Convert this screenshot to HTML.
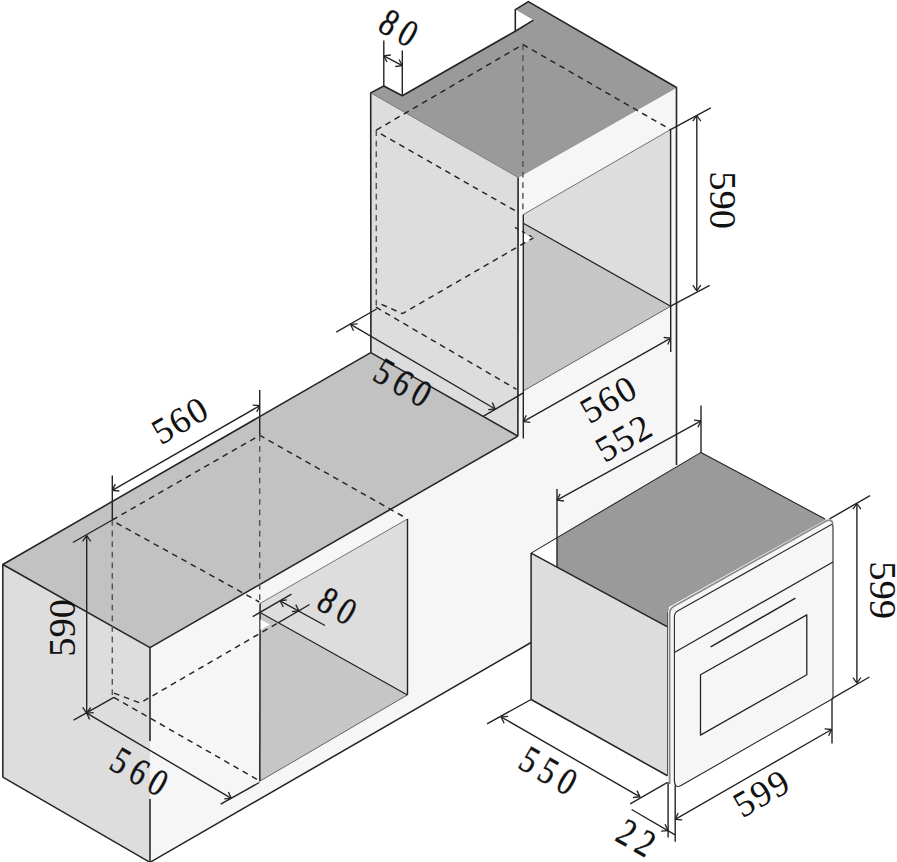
<!DOCTYPE html>
<html><head><meta charset="utf-8"><title>Oven installation dimensions</title>
<style>
html,body{margin:0;padding:0;background:#ffffff;}
body{width:897px;height:862px;overflow:hidden;font-family:"Liberation Serif",serif;}
svg{display:block;}
.t{font-family:"Liberation Serif",serif;}
</style></head><body>
<svg width="897" height="862" viewBox="0 0 897 862" role="img" aria-label="Built-in oven installation dimensions: cabinet cut-outs 560 x 590 x 560 with 80 ventilation gap; oven 599 x 599 x 550, body width 552, door thickness 22">
<rect width="897" height="862" fill="#ffffff"/>
<polygon points="2.8,565.0 150.0,647.6 150.0,862.3 2.8,777.2" fill="#dddddd" stroke="none" stroke-width="1.2" stroke-linejoin="round" />
<polygon points="150.0,647.6 517.9,436.1 518.1,177.5 676.5,87.5 676.5,558.6 150.0,862.3 150.0,647.6" fill="#f6f6f6" stroke="none" stroke-width="1.2" stroke-linejoin="round" />
<polygon points="2.8,564.5 370.7,352.7 517.9,436.1 150.0,647.6" fill="#c2c2c2" stroke="none" stroke-width="1.2" stroke-linejoin="round" />
<polyline points="2.8,777.2 2.8,564.5 370.7,352.7" fill="none" stroke="#242424" stroke-width="1.55" stroke-linecap="butt" stroke-linejoin="round"  />
<polyline points="2.8,564.5 150.0,647.6 517.9,436.1" fill="none" stroke="#242424" stroke-width="1.55" stroke-linecap="butt" stroke-linejoin="round"  />
<polyline points="150.0,647.6 150.0,741.0" fill="none" stroke="#242424" stroke-width="1.55" stroke-linecap="butt" stroke-linejoin="round"  />
<polyline points="150.0,799.0 150.0,866.0" fill="none" stroke="#242424" stroke-width="1.55" stroke-linecap="butt" stroke-linejoin="round"  />
<polyline points="2.8,777.2 150.0,862.3" fill="none" stroke="#242424" stroke-width="1.55" stroke-linecap="butt" stroke-linejoin="round"  />
<polyline points="150.0,862.3 531.1,642.5" fill="none" stroke="#242424" stroke-width="1.55" stroke-linecap="butt" stroke-linejoin="round"  />
<polygon points="407.5,519.0 260.1,603.4 260.1,612.5 407.5,694.9" fill="#dddddd" stroke="none" stroke-width="1.2" stroke-linejoin="round" />
<polygon points="260.1,612.5 407.5,694.9 259.8,781.0" fill="#c6c6c6" stroke="none" stroke-width="1.2" stroke-linejoin="round" />
<polyline points="260.1,603.4 407.5,519.0" fill="none" stroke="#666" stroke-width="0.9" stroke-linecap="butt" stroke-linejoin="round"  />
<polyline points="259.8,781.2 407.5,694.9" fill="none" stroke="#555" stroke-width="0.9" stroke-linecap="butt" stroke-linejoin="round"  />
<polyline points="407.5,519.0 407.5,694.9" fill="none" stroke="#242424" stroke-width="1.4" stroke-linecap="butt" stroke-linejoin="round"  />
<polyline points="260.1,603.4 259.8,781.2" fill="none" stroke="#242424" stroke-width="1.5" stroke-linecap="butt" stroke-linejoin="round"  />
<polyline points="260.1,612.5 407.5,694.9" fill="none" stroke="#242424" stroke-width="1.2" stroke-linecap="butt" stroke-linejoin="round"  />
<polygon points="260.5,619.5 270.0,624.5 260.5,630.0" fill="#ffffff" stroke="none" stroke-width="1.2" stroke-linejoin="round" />
<polyline points="112.3,520.0 259.7,435.3 406.6,518.4" fill="none" stroke="#242424" stroke-width="1.45" stroke-linecap="butt" stroke-linejoin="round" stroke-dasharray="5.8 4.8" />
<polyline points="112.3,520.0 112.3,694.9" fill="none" stroke="#555" stroke-width="1.45" stroke-linecap="butt" stroke-linejoin="round" stroke-dasharray="5.8 4.8" />
<polyline points="259.7,435.3 259.7,603.0" fill="none" stroke="#555" stroke-width="1.45" stroke-linecap="butt" stroke-linejoin="round" stroke-dasharray="5.8 4.8" />
<polyline points="116.5,523.0 259.3,602.0" fill="none" stroke="#242424" stroke-width="1.45" stroke-linecap="butt" stroke-linejoin="round" stroke-dasharray="5.8 4.8" />
<polyline points="113.9,693.1 140.2,703.0 278.1,622.8" fill="none" stroke="#242424" stroke-width="1.45" stroke-linecap="butt" stroke-linejoin="round" stroke-dasharray="5.8 4.8" />
<polyline points="113.9,697.4 259.3,780.7" fill="none" stroke="#242424" stroke-width="1.45" stroke-linecap="butt" stroke-linejoin="round" stroke-dasharray="5.8 4.8" />
<polygon points="370.7,92.9 518.1,177.5 517.9,436.1 370.9,352.7" fill="#dddddd" stroke="none" stroke-width="1.2" stroke-linejoin="round" />
<polygon points="370.7,92.9 383.8,86.0 402.3,95.8 515.3,31.2 533.4,20.1 515.3,9.6 528.4,1.6 676.5,87.5 518.1,177.5" fill="#9a9a9a" stroke="none" stroke-width="1.2" stroke-linejoin="round" />
<polyline points="370.9,352.7 370.7,92.9 383.8,86.0 402.3,95.8 515.3,31.2 533.4,20.1" fill="none" stroke="#242424" stroke-width="1.6" stroke-linecap="butt" stroke-linejoin="round"  />
<polyline points="515.3,31.2 515.3,9.6 528.4,1.6 676.5,87.5 676.5,465.0" fill="none" stroke="#242424" stroke-width="1.6" stroke-linecap="butt" stroke-linejoin="round"  />
<polyline points="518.1,177.5 517.9,436.1" fill="none" stroke="#242424" stroke-width="1.6" stroke-linecap="butt" stroke-linejoin="round"  />
<polyline points="370.8,352.7 517.9,436.1" fill="none" stroke="#242424" stroke-width="1.55" stroke-linecap="butt" stroke-linejoin="round"  />
<polyline points="370.7,92.9 518.1,177.5" fill="none" stroke="#555" stroke-width="0.6" stroke-linecap="butt" stroke-linejoin="round"  />
<polyline points="518.1,177.5 676.5,87.5" fill="none" stroke="#777" stroke-width="0.5" stroke-linecap="butt" stroke-linejoin="round"  />
<polygon points="670.5,129.6 523.2,214.3 523.2,224.0 670.7,306.2" fill="#dddddd" stroke="none" stroke-width="1.2" stroke-linejoin="round" />
<polygon points="523.2,224.0 670.7,306.2 523.2,391.0" fill="#c6c6c6" stroke="none" stroke-width="1.2" stroke-linejoin="round" />
<polyline points="523.3,214.5 670.5,129.6" fill="none" stroke="#666" stroke-width="0.9" stroke-linecap="butt" stroke-linejoin="round"  />
<polyline points="523.2,391.0 670.7,306.2" fill="none" stroke="#555" stroke-width="0.9" stroke-linecap="butt" stroke-linejoin="round"  />
<polyline points="670.6,129.6 670.6,306.2" fill="none" stroke="#242424" stroke-width="1.4" stroke-linecap="butt" stroke-linejoin="round"  />
<polyline points="523.3,214.5 523.3,391.0" fill="none" stroke="#242424" stroke-width="1.4" stroke-linecap="butt" stroke-linejoin="round"  />
<polyline points="523.3,223.2 670.7,306.2" fill="none" stroke="#242424" stroke-width="1.3" stroke-linecap="butt" stroke-linejoin="round"  />
<polygon points="524.0,233.6 532.7,238.1 524.0,243.7" fill="#ffffff" stroke="none" stroke-width="1.2" stroke-linejoin="round" />
<polyline points="515.0,227.4 533.4,237.8" fill="none" stroke="#242424" stroke-width="1.25" stroke-linecap="butt" stroke-linejoin="round" stroke-dasharray="3.5 4.5" />
<polyline points="376.3,130.1 522.9,44.5 670.5,129.6" fill="none" stroke="#242424" stroke-width="1.45" stroke-linecap="butt" stroke-linejoin="round" stroke-dasharray="5.8 4.8" />
<polyline points="522.9,44.5 522.9,211.0" fill="none" stroke="#555" stroke-width="1.45" stroke-linecap="butt" stroke-linejoin="round" stroke-dasharray="5.8 4.8" />
<polyline points="376.3,130.1 376.3,307.2" fill="none" stroke="#555" stroke-width="1.45" stroke-linecap="butt" stroke-linejoin="round" stroke-dasharray="5.8 4.8" />
<polyline points="380.9,133.9 516.6,211.5" fill="none" stroke="#242424" stroke-width="1.45" stroke-linecap="butt" stroke-linejoin="round" stroke-dasharray="5.8 4.8" />
<polyline points="375.9,307.2 516.5,389.3" fill="none" stroke="#242424" stroke-width="1.45" stroke-linecap="butt" stroke-linejoin="round" stroke-dasharray="5.8 4.8" />
<polyline points="381.5,304.4 402.4,313.6 533.4,237.8" fill="none" stroke="#242424" stroke-width="1.45" stroke-linecap="butt" stroke-linejoin="round" stroke-dasharray="5.8 4.8" />
<polygon points="531.1,553.1 557.0,538.0 557.0,567.1" fill="#ffffff" stroke="none" stroke-width="1.2" stroke-linejoin="round" />
<polygon points="531.1,553.1 667.5,626.9 667.5,775.8 531.1,699.5" fill="#dddddd" stroke="none" stroke-width="1.2" stroke-linejoin="round" />
<polygon points="557.0,538.0 701.0,452.4 826.0,519.5 669.0,607.0 667.5,626.9 557.0,567.1" fill="#9a9a9a" stroke="none" stroke-width="1.2" stroke-linejoin="round" />
<polygon points="667.5,612.0 674.0,606.0 674.0,784.0 667.5,776.0" fill="#fbfbfb" stroke="none" stroke-width="1.2" stroke-linejoin="round" />
<polyline points="531.1,699.5 531.1,553.1" fill="none" stroke="#242424" stroke-width="1.5" stroke-linecap="butt" stroke-linejoin="round"  />
<polyline points="531.1,553.1 701.0,452.4 825.0,519.0" fill="none" stroke="#242424" stroke-width="1.1" stroke-linecap="butt" stroke-linejoin="round"  />
<polyline points="531.1,553.1 667.5,626.9" fill="none" stroke="#242424" stroke-width="1.55" stroke-linecap="butt" stroke-linejoin="round"  />
<polyline points="531.1,699.5 667.5,775.8" fill="none" stroke="#242424" stroke-width="1.55" stroke-linecap="butt" stroke-linejoin="round"  />
<polyline points="667.5,612.0 667.5,776.0" fill="none" stroke="#555" stroke-width="1.0" stroke-linecap="butt" stroke-linejoin="round"  />
<path d="M669.6,783 L669.6,614 Q669.6,608.6 674,606.2 L826.5,520.8 Q833,517.5 833,527 L833,698 L681.5,785.4 Q676,788.5 672,786 Z" fill="#f6f6f6" stroke="none"/>
<path d="M669.6,784 L669.6,614 Q669.6,608.6 674,606.2 L826.5,520.8 Q831.5,518.4 833,524" fill="none" stroke="#8a8a8a" stroke-width="1.8" stroke-linejoin="round"/>
<path d="M674.4,780 L674.4,617 Q674.4,612.8 678,610.8 L831.5,524.6 Q833,524 833,527.5 L833,698.4 L681,785.6 Q674.4,789 674.4,780 Z" fill="none" stroke="#2a2a2a" stroke-width="1.1" stroke-linejoin="round"/>
<polyline points="833.0,562.0 674.3,652.4" fill="none" stroke="#242424" stroke-width="1.2" stroke-linecap="butt" stroke-linejoin="round"  />
<polyline points="795.4,598.2 710.7,646.8" fill="none" stroke="#242424" stroke-width="1.5" stroke-linecap="butt" stroke-linejoin="round"  />
<polygon points="700.5,674.8 806.8,614.9 806.8,674.7 700.5,735.1" fill="none" stroke="#242424" stroke-width="1.3" stroke-linejoin="round" />
<polyline points="383.8,86.0 383.8,40.4" fill="none" stroke="#242424" stroke-width="1.4" stroke-linecap="butt" stroke-linejoin="round"  />
<polyline points="402.3,95.8 402.3,50.4" fill="none" stroke="#242424" stroke-width="1.4" stroke-linecap="butt" stroke-linejoin="round"  />
<polyline points="383.8,55.8 402.3,65.7" fill="none" stroke="#242424" stroke-width="1.4" stroke-linecap="butt" stroke-linejoin="round"  />
<polyline points="383.8,55.8 387.0,62.0" fill="none" stroke="#242424" stroke-width="1.3" stroke-linecap="butt" stroke-linejoin="round"  />
<polyline points="383.8,55.8 390.8,55.0" fill="none" stroke="#242424" stroke-width="1.3" stroke-linecap="butt" stroke-linejoin="round"  />
<polyline points="402.3,65.7 399.1,59.5" fill="none" stroke="#242424" stroke-width="1.3" stroke-linecap="butt" stroke-linejoin="round"  />
<polyline points="402.3,65.7 395.3,66.5" fill="none" stroke="#242424" stroke-width="1.3" stroke-linecap="butt" stroke-linejoin="round"  />
<polyline points="669.6,130.2 710.8,107.9" fill="none" stroke="#242424" stroke-width="1.4" stroke-linecap="butt" stroke-linejoin="round"  />
<polyline points="670.7,306.2 709.7,285.3" fill="none" stroke="#242424" stroke-width="1.4" stroke-linecap="butt" stroke-linejoin="round"  />
<polyline points="696.8,115.5 696.8,290.8" fill="none" stroke="#242424" stroke-width="1.4" stroke-linecap="butt" stroke-linejoin="round"  />
<polyline points="696.8,115.5 692.8,121.2" fill="none" stroke="#242424" stroke-width="1.3" stroke-linecap="butt" stroke-linejoin="round"  />
<polyline points="696.8,115.5 700.8,121.2" fill="none" stroke="#242424" stroke-width="1.3" stroke-linecap="butt" stroke-linejoin="round"  />
<polyline points="696.8,290.8 700.8,285.1" fill="none" stroke="#242424" stroke-width="1.3" stroke-linecap="butt" stroke-linejoin="round"  />
<polyline points="696.8,290.8 692.8,285.1" fill="none" stroke="#242424" stroke-width="1.3" stroke-linecap="butt" stroke-linejoin="round"  />
<polyline points="336.2,332.2 376.6,309.0" fill="none" stroke="#242424" stroke-width="1.4" stroke-linecap="butt" stroke-linejoin="round"  />
<polyline points="483.6,416.1 523.3,392.9" fill="none" stroke="#242424" stroke-width="1.4" stroke-linecap="butt" stroke-linejoin="round"  />
<polyline points="350.6,324.4 495.2,409.0" fill="none" stroke="#242424" stroke-width="1.4" stroke-linecap="butt" stroke-linejoin="round"  />
<polyline points="350.6,324.4 353.5,330.8" fill="none" stroke="#242424" stroke-width="1.3" stroke-linecap="butt" stroke-linejoin="round"  />
<polyline points="350.6,324.4 357.6,323.8" fill="none" stroke="#242424" stroke-width="1.3" stroke-linecap="butt" stroke-linejoin="round"  />
<polyline points="495.2,409.0 492.3,402.6" fill="none" stroke="#242424" stroke-width="1.3" stroke-linecap="butt" stroke-linejoin="round"  />
<polyline points="495.2,409.0 488.2,409.6" fill="none" stroke="#242424" stroke-width="1.3" stroke-linecap="butt" stroke-linejoin="round"  />
<polyline points="523.3,391.0 523.3,438.6" fill="none" stroke="#242424" stroke-width="1.4" stroke-linecap="butt" stroke-linejoin="round"  />
<polyline points="670.7,306.0 670.7,352.0" fill="none" stroke="#242424" stroke-width="1.4" stroke-linecap="butt" stroke-linejoin="round"  />
<polyline points="523.3,421.6 670.7,338.2" fill="none" stroke="#242424" stroke-width="1.4" stroke-linecap="butt" stroke-linejoin="round"  />
<polyline points="523.3,421.6 530.3,422.3" fill="none" stroke="#242424" stroke-width="1.3" stroke-linecap="butt" stroke-linejoin="round"  />
<polyline points="523.3,421.6 526.3,415.3" fill="none" stroke="#242424" stroke-width="1.3" stroke-linecap="butt" stroke-linejoin="round"  />
<polyline points="670.7,338.2 663.7,337.5" fill="none" stroke="#242424" stroke-width="1.3" stroke-linecap="butt" stroke-linejoin="round"  />
<polyline points="670.7,338.2 667.7,344.5" fill="none" stroke="#242424" stroke-width="1.3" stroke-linecap="butt" stroke-linejoin="round"  />
<polyline points="557.0,489.1 557.0,567.0" fill="none" stroke="#242424" stroke-width="1.4" stroke-linecap="butt" stroke-linejoin="round"  />
<polyline points="701.0,405.6 701.0,452.9" fill="none" stroke="#242424" stroke-width="1.4" stroke-linecap="butt" stroke-linejoin="round"  />
<polyline points="557.0,500.2 701.0,420.9" fill="none" stroke="#242424" stroke-width="1.4" stroke-linecap="butt" stroke-linejoin="round"  />
<polyline points="557.0,500.2 564.0,501.0" fill="none" stroke="#242424" stroke-width="1.3" stroke-linecap="butt" stroke-linejoin="round"  />
<polyline points="557.0,500.2 560.1,493.9" fill="none" stroke="#242424" stroke-width="1.3" stroke-linecap="butt" stroke-linejoin="round"  />
<polyline points="701.0,420.9 694.0,420.1" fill="none" stroke="#242424" stroke-width="1.3" stroke-linecap="butt" stroke-linejoin="round"  />
<polyline points="701.0,420.9 697.9,427.2" fill="none" stroke="#242424" stroke-width="1.3" stroke-linecap="butt" stroke-linejoin="round"  />
<polyline points="112.3,475.6 112.3,520.0" fill="none" stroke="#242424" stroke-width="1.4" stroke-linecap="butt" stroke-linejoin="round"  />
<polyline points="259.7,390.0 259.7,435.3" fill="none" stroke="#242424" stroke-width="1.4" stroke-linecap="butt" stroke-linejoin="round"  />
<polyline points="112.3,490.4 259.7,405.7" fill="none" stroke="#242424" stroke-width="1.4" stroke-linecap="butt" stroke-linejoin="round"  />
<polyline points="112.3,490.4 119.3,491.0" fill="none" stroke="#242424" stroke-width="1.3" stroke-linecap="butt" stroke-linejoin="round"  />
<polyline points="112.3,490.4 115.3,484.1" fill="none" stroke="#242424" stroke-width="1.3" stroke-linecap="butt" stroke-linejoin="round"  />
<polyline points="259.7,405.7 252.7,405.1" fill="none" stroke="#242424" stroke-width="1.3" stroke-linecap="butt" stroke-linejoin="round"  />
<polyline points="259.7,405.7 256.7,412.0" fill="none" stroke="#242424" stroke-width="1.3" stroke-linecap="butt" stroke-linejoin="round"  />
<polyline points="72.9,542.5 112.3,520.0" fill="none" stroke="#242424" stroke-width="1.4" stroke-linecap="butt" stroke-linejoin="round"  />
<polyline points="73.6,720.1 113.9,697.4" fill="none" stroke="#242424" stroke-width="1.4" stroke-linecap="butt" stroke-linejoin="round"  />
<polyline points="86.7,535.7 86.7,713.1" fill="none" stroke="#242424" stroke-width="1.4" stroke-linecap="butt" stroke-linejoin="round"  />
<polyline points="86.7,535.7 82.7,541.4" fill="none" stroke="#242424" stroke-width="1.3" stroke-linecap="butt" stroke-linejoin="round"  />
<polyline points="86.7,535.7 90.7,541.4" fill="none" stroke="#242424" stroke-width="1.3" stroke-linecap="butt" stroke-linejoin="round"  />
<polyline points="86.7,713.1 90.7,707.4" fill="none" stroke="#242424" stroke-width="1.3" stroke-linecap="butt" stroke-linejoin="round"  />
<polyline points="86.7,713.1 82.7,707.4" fill="none" stroke="#242424" stroke-width="1.3" stroke-linecap="butt" stroke-linejoin="round"  />
<polyline points="220.7,804.2 259.3,782.5" fill="none" stroke="#242424" stroke-width="1.4" stroke-linecap="butt" stroke-linejoin="round"  />
<polyline points="86.7,713.1 231.3,798.3" fill="none" stroke="#242424" stroke-width="1.4" stroke-linecap="butt" stroke-linejoin="round"  />
<polyline points="86.7,713.1 89.6,719.5" fill="none" stroke="#242424" stroke-width="1.3" stroke-linecap="butt" stroke-linejoin="round"  />
<polyline points="86.7,713.1 93.7,712.6" fill="none" stroke="#242424" stroke-width="1.3" stroke-linecap="butt" stroke-linejoin="round"  />
<polyline points="231.3,798.3 228.4,791.9" fill="none" stroke="#242424" stroke-width="1.3" stroke-linecap="butt" stroke-linejoin="round"  />
<polyline points="231.3,798.3 224.3,798.8" fill="none" stroke="#242424" stroke-width="1.3" stroke-linecap="butt" stroke-linejoin="round"  />
<polyline points="252.7,616.6 291.5,594.1" fill="none" stroke="#242424" stroke-width="1.4" stroke-linecap="butt" stroke-linejoin="round"  />
<polyline points="278.1,622.8 309.6,604.5" fill="none" stroke="#242424" stroke-width="1.4" stroke-linecap="butt" stroke-linejoin="round"  />
<polyline points="280.1,600.8 325.0,625.5" fill="none" stroke="#242424" stroke-width="1.4" stroke-linecap="butt" stroke-linejoin="round"  />
<polyline points="280.1,600.8 283.3,607.0" fill="none" stroke="#242424" stroke-width="1.3" stroke-linecap="butt" stroke-linejoin="round"  />
<polyline points="280.1,600.8 287.0,599.9" fill="none" stroke="#242424" stroke-width="1.3" stroke-linecap="butt" stroke-linejoin="round"  />
<polyline points="298.9,610.8 295.7,604.6" fill="none" stroke="#242424" stroke-width="1.3" stroke-linecap="butt" stroke-linejoin="round"  />
<polyline points="298.9,610.8 292.0,611.7" fill="none" stroke="#242424" stroke-width="1.3" stroke-linecap="butt" stroke-linejoin="round"  />
<polyline points="829.6,518.8 870.0,495.7" fill="none" stroke="#242424" stroke-width="1.4" stroke-linecap="butt" stroke-linejoin="round"  />
<polyline points="831.9,698.6 869.5,677.0" fill="none" stroke="#242424" stroke-width="1.4" stroke-linecap="butt" stroke-linejoin="round"  />
<polyline points="856.9,503.5 856.9,683.2" fill="none" stroke="#242424" stroke-width="1.4" stroke-linecap="butt" stroke-linejoin="round"  />
<polyline points="856.9,503.5 852.9,509.2" fill="none" stroke="#242424" stroke-width="1.3" stroke-linecap="butt" stroke-linejoin="round"  />
<polyline points="856.9,503.5 860.9,509.2" fill="none" stroke="#242424" stroke-width="1.3" stroke-linecap="butt" stroke-linejoin="round"  />
<polyline points="856.9,683.2 860.9,677.5" fill="none" stroke="#242424" stroke-width="1.3" stroke-linecap="butt" stroke-linejoin="round"  />
<polyline points="856.9,683.2 852.9,677.5" fill="none" stroke="#242424" stroke-width="1.3" stroke-linecap="butt" stroke-linejoin="round"  />
<polyline points="487.0,723.9 531.1,699.5" fill="none" stroke="#242424" stroke-width="1.4" stroke-linecap="butt" stroke-linejoin="round"  />
<polyline points="630.2,803.9 667.5,782.3" fill="none" stroke="#242424" stroke-width="1.4" stroke-linecap="butt" stroke-linejoin="round"  />
<polyline points="501.1,716.9 640.0,796.9" fill="none" stroke="#242424" stroke-width="1.4" stroke-linecap="butt" stroke-linejoin="round"  />
<polyline points="501.1,716.9 504.1,723.2" fill="none" stroke="#242424" stroke-width="1.3" stroke-linecap="butt" stroke-linejoin="round"  />
<polyline points="501.1,716.9 508.1,716.3" fill="none" stroke="#242424" stroke-width="1.3" stroke-linecap="butt" stroke-linejoin="round"  />
<polyline points="640.0,796.9 637.0,790.6" fill="none" stroke="#242424" stroke-width="1.3" stroke-linecap="butt" stroke-linejoin="round"  />
<polyline points="640.0,796.9 633.0,797.5" fill="none" stroke="#242424" stroke-width="1.3" stroke-linecap="butt" stroke-linejoin="round"  />
<polyline points="832.0,698.6 832.0,743.5" fill="none" stroke="#242424" stroke-width="1.4" stroke-linecap="butt" stroke-linejoin="round"  />
<polyline points="675.2,785.6 675.2,841.8" fill="none" stroke="#242424" stroke-width="1.4" stroke-linecap="butt" stroke-linejoin="round"  />
<polyline points="675.2,819.3 831.6,729.5" fill="none" stroke="#242424" stroke-width="1.4" stroke-linecap="butt" stroke-linejoin="round"  />
<polyline points="675.2,819.3 682.2,819.9" fill="none" stroke="#242424" stroke-width="1.3" stroke-linecap="butt" stroke-linejoin="round"  />
<polyline points="675.2,819.3 678.2,813.0" fill="none" stroke="#242424" stroke-width="1.3" stroke-linecap="butt" stroke-linejoin="round"  />
<polyline points="831.6,729.5 824.6,728.9" fill="none" stroke="#242424" stroke-width="1.3" stroke-linecap="butt" stroke-linejoin="round"  />
<polyline points="831.6,729.5 828.6,735.8" fill="none" stroke="#242424" stroke-width="1.3" stroke-linecap="butt" stroke-linejoin="round"  />
<polyline points="668.1,782.3 668.1,837.6" fill="none" stroke="#242424" stroke-width="1.4" stroke-linecap="butt" stroke-linejoin="round"  />
<polyline points="631.6,809.5 675.1,834.8" fill="none" stroke="#242424" stroke-width="1.4" stroke-linecap="butt" stroke-linejoin="round"  />
<polyline points="668.1,830.6 665.1,824.3" fill="none" stroke="#242424" stroke-width="1.3" stroke-linecap="butt" stroke-linejoin="round"  />
<polyline points="668.1,830.6 661.1,831.2" fill="none" stroke="#242424" stroke-width="1.3" stroke-linecap="butt" stroke-linejoin="round"  />
<text class="t" transform="translate(398.5,28.0) rotate(30) scale(0.8,1)" x="-23.2 3.9" y="12.6" font-size="38.5" fill="#111" stroke="#111" stroke-width="0.4">80</text>
<text class="t" transform="translate(722.9,200.5) rotate(90)" x="-29.3 -10.0 9.2" y="12.6" font-size="38.5" fill="#111">590</text>
<text class="t" transform="translate(403.0,383.0) rotate(30) scale(0.8,1)" x="-37.1 -10.0 17.1" y="12.6" font-size="38.5" fill="#111" stroke="#111" stroke-width="0.4">560</text>
<text class="t" transform="translate(608.5,399.5) rotate(-30)" x="-29.2 -9.5 10.3" y="12.0" font-size="36.5" fill="#111">560</text>
<text class="t" transform="translate(623.5,438.5) rotate(-30)" x="-28.9 -9.2 10.6" y="12.0" font-size="36.5" fill="#111">552</text>
<text class="t" transform="translate(180.0,420.5) rotate(-30)" x="-29.2 -9.5 10.3" y="12.0" font-size="36.5" fill="#111">560</text>
<text class="t" transform="translate(62.8,627.4) rotate(-90)" x="-29.3 -10.0 9.2" y="12.6" font-size="38.5" fill="#111">590</text>
<text class="t" transform="translate(139.5,772.0) rotate(30) scale(0.8,1)" x="-37.1 -10.0 17.1" y="12.6" font-size="38.5" fill="#111" stroke="#111" stroke-width="0.4">560</text>
<text class="t" transform="translate(337.0,606.0) rotate(30) scale(0.8,1)" x="-23.2 3.9" y="12.6" font-size="38.5" fill="#111" stroke="#111" stroke-width="0.4">80</text>
<text class="t" transform="translate(882.5,590.5) rotate(90)" x="-29.2 -10.0 9.3" y="12.6" font-size="38.5" fill="#111">599</text>
<text class="t" transform="translate(548.5,771.0) rotate(30) scale(0.8,1)" x="-37.1 -10.0 17.1" y="12.6" font-size="38.5" fill="#111" stroke="#111" stroke-width="0.4">550</text>
<text class="t" transform="translate(761.5,793.5) rotate(-30)" x="-29.2 -9.4 10.3" y="12.0" font-size="36.5" fill="#111">599</text>
<text class="t" transform="translate(636.0,838.0) rotate(30) scale(0.8,1)" x="-22.9 4.1" y="12.6" font-size="38.5" fill="#111" stroke="#111" stroke-width="0.4">22</text>
</svg>
</body></html>
